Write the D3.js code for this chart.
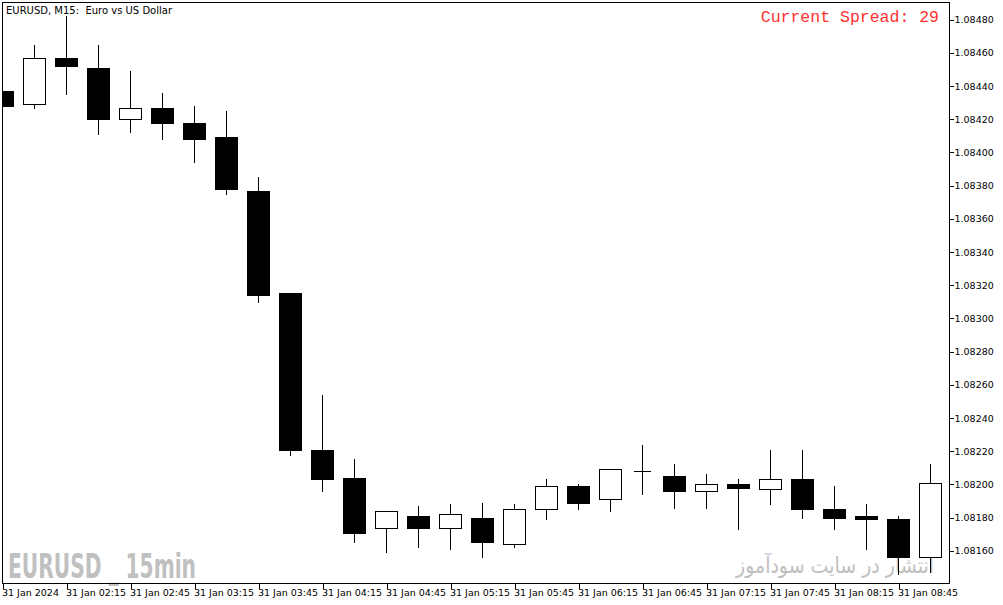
<!DOCTYPE html>
<meta charset="utf-8">
<head>
  <style>
    body { margin: 0; background: #fff; }
    text { font-family: "DejaVu Sans", sans-serif; }
  </style>
  <title></title>
</head>
<body>
<div id="my_dataviz"></div>
<script src="https://d3js.org/d3.v7.min.js"></script>
<script>

// bars of EURUSD M15, 31 Jan 2024
var times  = ["01:45","02:00","02:15","02:30","02:45","03:00","03:15","03:30","03:45","04:00",
              "04:15","04:30","04:45","05:00","05:15","05:30","05:45","06:00","06:15","06:30",
              "06:45","07:00","07:15","07:30","07:45","08:00","08:15","08:30","08:45","09:00"];
var openP  = [1.08437,1.08429,1.08457,1.08451,1.08420,1.08427,1.08418,1.08409,1.08377,1.08315,
              1.08221,1.08204,1.08174,1.08181,1.08174,1.08180,1.08164,1.08185,1.08199,1.08191,
              1.08208,1.08205,1.08196,1.08200,1.08197,1.08203,1.08185,1.08181,1.08179,1.08156];
var highP  = [1.08442,1.08465,1.08482,1.08465,1.08449,1.08436,1.08428,1.08425,1.08385,1.08315,
              1.08254,1.08215,1.08184,1.08187,1.08188,1.08189,1.08188,1.08203,1.08200,1.08209,
              1.08224,1.08212,1.08206,1.08203,1.08221,1.08221,1.08199,1.08188,1.08181,1.08212];
var lowP   = [1.08425,1.08427,1.08435,1.08411,1.08412,1.08408,1.08394,1.08375,1.08310,1.08218,
              1.08196,1.08165,1.08159,1.08162,1.08161,1.08156,1.08162,1.08179,1.08185,1.08184,
              1.08194,1.08186,1.08186,1.08173,1.08188,1.08180,1.08173,1.08161,1.08146,1.08147];
var closeP = [1.08428,1.08457,1.08452,1.08420,1.08427,1.08418,1.08408,1.08378,1.08314,1.08221,
              1.08203,1.08171,1.08184,1.08174,1.08182,1.08165,1.08185,1.08199,1.08189,1.08209,
              1.08208,1.08196,1.08200,1.08198,1.08203,1.08185,1.08180,1.08179,1.08156,1.08201];

// time axis labels (every second bar)
var xTickIdx    = [0,2,4,6,8,10,12,14,16,18,20,22,24,26,28];
var xTickLabels = ["31 Jan 2024","31 Jan 02:15","31 Jan 02:45","31 Jan 03:15","31 Jan 03:45",
                   "31 Jan 04:15","31 Jan 04:45","31 Jan 05:15","31 Jan 05:45","31 Jan 06:15",
                   "31 Jan 06:45","31 Jan 07:15","31 Jan 07:45","31 Jan 08:15","31 Jan 08:45"];
var yTicks = [1.08160,1.08180,1.08200,1.08220,1.08240,1.08260,1.08280,1.08300,1.08320,
              1.08340,1.08360,1.08380,1.08400,1.08420,1.08440,1.08460,1.08480];

var W = 1003, H = 605;
var plot = {left: 3, top: 3, right: 950, bottom: 584};

var svg = d3.select("#my_dataviz")
  .append("svg")
    .attr("width", W)
    .attr("height", H)
    .style("display", "block");

svg.append("rect").attr("width", W).attr("height", H).attr("fill", "#fff");

var x = d3.scaleLinear()
  .domain([0, times.length - 1])
  .range([2, 930]);

var y = d3.scaleLinear()
  .domain([1.08140, 1.08490])
  .range([plot.bottom, plot.top]);

svg.append("clipPath").attr("id", "clip")
  .append("rect")
    .attr("x", plot.left).attr("y", plot.top)
    .attr("width", plot.right - plot.left).attr("height", plot.bottom - plot.top);

// watermarks (behind the bars)
svg.append("text")
  .attr("x", 8)
  .attr("y", 578)
  .style("font-family", "'DejaVu Sans Condensed', 'Liberation Sans Narrow', sans-serif")
  .style("font-weight", "bold")
  .style("font-size", "34px")
  .style("white-space", "pre")
  .attr("fill", "#c0c0c0")
  .attr("textLength", 188)
  .attr("lengthAdjust", "spacingAndGlyphs")
  .text("EURUSD _ 15min");

svg.append("text")
  .attr("x", 934)
  .attr("y", 573)
  .attr("direction", "rtl")
  .attr("text-anchor", "start")
  .style("font-size", "22px")
  .attr("fill", "#c0c0c0")
  .attr("textLength", 198)
  .attr("lengthAdjust", "spacingAndGlyphs")
  .text("انتشار در سایت سودآموز");

var data = times.map(function(t, i) {
  return {t: t, o: openP[i], h: highP[i], l: lowP[i], c: closeP[i]};
});

var bars = svg.append("g")
  .attr("clip-path", "url(#clip)")
  .attr("shape-rendering", "crispEdges");

var bw = 22;

// wicks
bars.selectAll("line.wick")
  .data(data)
  .enter()
  .append("line")
    .attr("x1", function(d, i) { return Math.round(x(i)) + 0.5; })
    .attr("x2", function(d, i) { return Math.round(x(i)) + 0.5; })
    .attr("y1", function(d) { return Math.round(y(d.h)); })
    .attr("y2", function(d) { return Math.round(y(d.l)) + 1; })
    .attr("stroke", "#000")
    .attr("stroke-width", 1);

// bodies
bars.selectAll("rect.body")
  .data(data.filter(function(d) { return d.o != d.c; }))
  .enter()
  .append("rect")
    .attr("x", function(d) { return Math.round(x(times.indexOf(d.t))) - bw / 2 + (d.c > d.o ? 0.5 : 0); })
    .attr("y", function(d) { return Math.round(y(Math.max(d.o, d.c))) + (d.c > d.o ? 0.5 : 0); })
    .attr("width", function(d) { return d.c > d.o ? bw : bw + 1; })
    .attr("height", function(d) {
      var hh = Math.round(y(Math.min(d.o, d.c))) - Math.round(y(Math.max(d.o, d.c)));
      return d.c > d.o ? Math.max(hh, 1) : Math.max(hh + 1, 2);
    })
    .attr("fill", function(d) { return d.c > d.o ? "#fff" : "#000"; })
    .attr("stroke", function(d) { return d.c > d.o ? "#000" : "none"; })
    .attr("stroke-width", 1);

// doji bars: flat line
bars.selectAll("line.doji")
  .data(data.filter(function(d) { return d.o == d.c; }))
  .enter()
  .append("line")
    .attr("x1", function(d) { return Math.round(x(times.indexOf(d.t))) - 8; })
    .attr("x2", function(d) { return Math.round(x(times.indexOf(d.t))) + 9; })
    .attr("y1", function(d) { return Math.round(y(d.o)) + 0.5; })
    .attr("y2", function(d) { return Math.round(y(d.o)) + 0.5; })
    .attr("stroke", "#000");

// frame
svg.append("rect")
  .attr("x", plot.left - 0.5)
  .attr("y", plot.top - 0.5)
  .attr("width", plot.right - plot.left)
  .attr("height", plot.bottom - plot.top)
  .attr("fill", "none")
  .attr("stroke", "#000")
  .attr("shape-rendering", "crispEdges");

// price axis on the right
var yAxis = svg.append("g")
  .attr("transform", "translate(" + (plot.right - 0.5) + ",0)")
  .call(d3.axisRight(y).tickValues(yTicks).tickSize(4).tickPadding(1)
    .tickFormat(d3.format(".5f")));
yAxis.select(".domain").remove();
yAxis.selectAll("line").attr("shape-rendering", "crispEdges");
yAxis.selectAll("text")
  .style("font-family", "'DejaVu Sans', sans-serif")
  .style("font-size", "9.5px")
  .attr("fill", "#000");

// time axis at the bottom
var xAxis = svg.append("g")
  .attr("transform", "translate(0," + (plot.bottom - 0.5) + ")")
  .call(d3.axisBottom(x).tickValues(xTickIdx).tickSize(5)
    .tickFormat(function(d) { return xTickLabels[xTickIdx.indexOf(d)]; }));
xAxis.select(".domain").remove();
xAxis.selectAll("line")
  .attr("transform", "translate(0.5,0)")
  .attr("shape-rendering", "crispEdges");
xAxis.selectAll("text")
  .attr("text-anchor", "start")
  .attr("x", -0.5)
  .attr("y", 6)
  .style("font-family", "'DejaVu Sans', sans-serif")
  .style("font-size", "9.5px")
  .attr("fill", "#000");

// chart caption
svg.append("text")
  .attr("x", 6)
  .attr("y", 14)
  .style("font-size", "10px")
  .style("white-space", "pre")
  .attr("fill", "#000")
  .text("EURUSD, M15:  Euro vs US Dollar");

svg.append("text")
  .attr("x", 939)
  .attr("y", 22)
  .attr("text-anchor", "end")
  .style("font-family", "'Liberation Mono', 'Courier New', monospace")
  .style("font-size", "16.5px")
  .attr("fill", "#ff3030")
  .text("Current Spread: 29");

</script>
</body>
